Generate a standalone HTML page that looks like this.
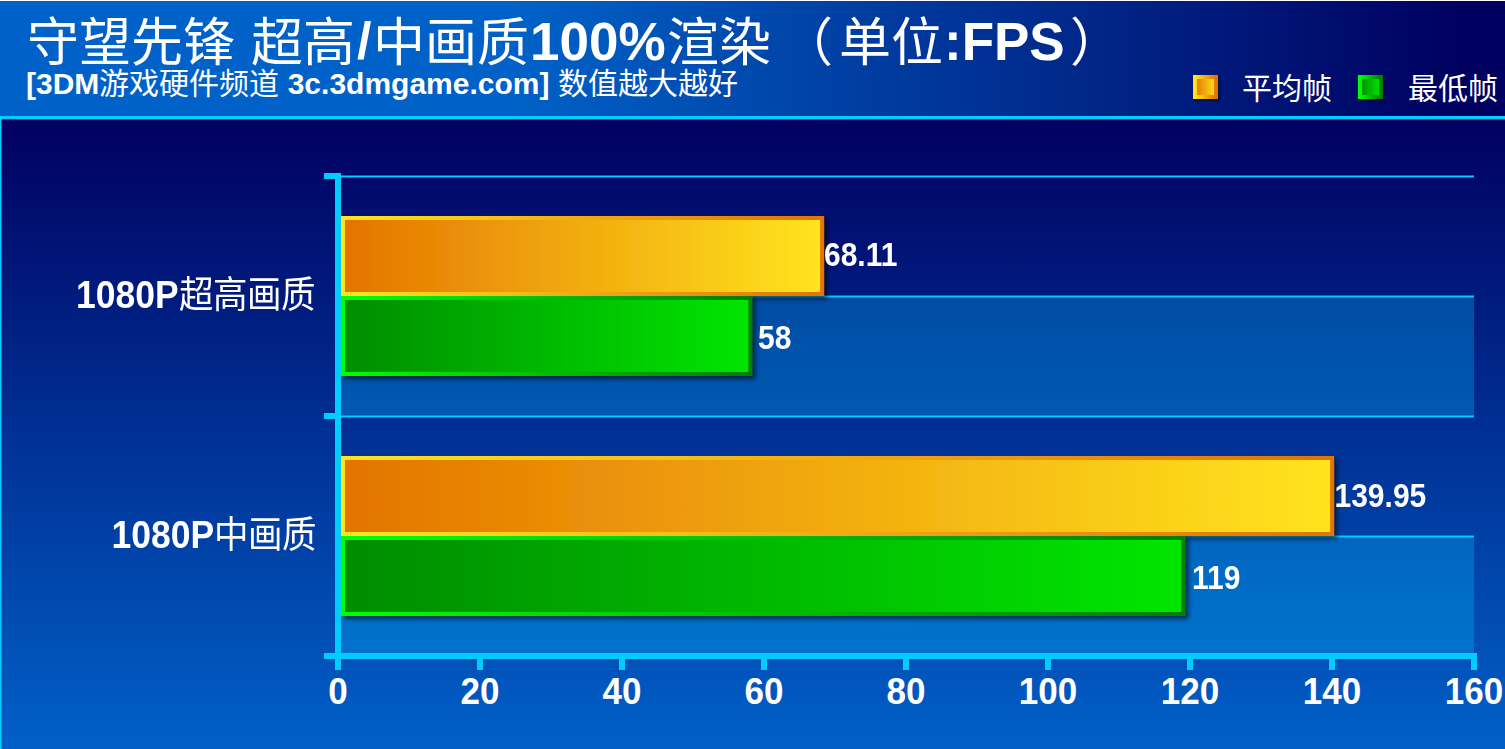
<!DOCTYPE html>
<html lang="zh-CN"><head><meta charset="utf-8">
<style>
html,body{margin:0;padding:0;}
body{width:1505px;height:749px;overflow:hidden;position:relative;background:#0060c8;font-family:"Liberation Sans",sans-serif;color:#fff;}
.abs{position:absolute;}
.topline{left:0;top:0;width:1505px;height:1px;background:#ffffff;}
.header{left:0;top:1px;width:1505px;height:115px;background:linear-gradient(to right,#0062c8 0px,#0062c8 510px,#000060 1460px);}
.cyanline{left:0;top:116px;width:1505px;height:3px;background:#00ccff;}
.cyan2{left:0;top:119px;width:1505px;height:1px;background:rgba(0,204,255,0.35);}
.main{left:0;top:119px;width:1505px;height:630px;background:linear-gradient(to bottom,#000060 0%,#0060c8 100%);}
.leftb{left:0;top:116px;width:1px;height:633px;background:#00ccff;}
.leftb2{left:1px;top:119px;width:1px;height:630px;background:rgba(0,204,255,0.5);}
.t{position:absolute;white-space:nowrap;line-height:1;}
.b{font-weight:bold;}
.cj{font-family:"Liberation Serif",serif;font-weight:normal;}
</style></head>
<body>
<div class="abs topline"></div>
<div class="abs header"></div>
<div class="abs cyanline"></div>
<div class="abs main"></div>
<div class="abs cyan2"></div>
<div class="abs leftb"></div>
<div class="abs leftb2"></div>

<svg class="abs" style="left:0;top:0" width="1505" height="749" viewBox="0 0 1505 749">
  <defs>
    <linearGradient id="ofill" x1="0" y1="0" x2="1" y2="0">
      <stop offset="0" stop-color="#e47400"/>
      <stop offset="1" stop-color="#ffe41e"/>
    </linearGradient>
    <linearGradient id="oborder" x1="0" y1="0" x2="1" y2="0">
      <stop offset="0" stop-color="#ffe41e"/>
      <stop offset="1" stop-color="#e47400"/>
    </linearGradient>
    <linearGradient id="gfill" x1="0" y1="0" x2="1" y2="0">
      <stop offset="0" stop-color="#008c00"/>
      <stop offset="1" stop-color="#00e600"/>
    </linearGradient>
    <linearGradient id="gborder" x1="0" y1="0" x2="1" y2="0">
      <stop offset="0" stop-color="#00ff00"/>
      <stop offset="1" stop-color="#008000"/>
    </linearGradient>
    <filter id="sh" x="-5%" y="-20%" width="115%" height="150%">
      <feGaussianBlur in="SourceAlpha" stdDeviation="2.5"/>
      <feOffset dx="3" dy="3" result="o"/>
      <feComponentTransfer><feFuncA type="linear" slope="0.6"/></feComponentTransfer>
      <feMerge><feMergeNode/><feMergeNode in="SourceGraphic"/></feMerge>
    </filter>
  </defs>
  <!-- plot bands -->
  <rect x="341" y="296" width="1133" height="120" fill="#00c0ff" fill-opacity="0.3"/>
  <rect x="341" y="536" width="1133" height="120" fill="#00c0ff" fill-opacity="0.3"/>
  <!-- gridlines -->
  <rect x="341" y="175.5" width="1133" height="2" fill="#00ccff"/>
  <rect x="341" y="295.5" width="1133" height="2" fill="#00ccff"/>
  <rect x="341" y="415.5" width="1133" height="2" fill="#00ccff"/>
  <rect x="341" y="535.5" width="1133" height="2" fill="#00ccff"/>
  <!-- bars -->
  <g filter="url(#sh)">
    <rect x="343" y="218" width="479.1" height="76" fill="url(#ofill)" stroke="url(#oborder)" stroke-width="4"/>
    <rect x="343" y="298" width="407.3" height="76" fill="url(#gfill)" stroke="url(#gborder)" stroke-width="4"/>
    <rect x="343" y="458" width="989.1" height="76" fill="url(#ofill)" stroke="url(#oborder)" stroke-width="4"/>
    <rect x="343" y="538" width="840.4" height="76" fill="url(#gfill)" stroke="url(#gborder)" stroke-width="4"/>
  </g>
  <!-- axes -->
  <rect x="335" y="173" width="6" height="486" fill="#00ccff"/>
  <rect x="324" y="173" width="17" height="6" fill="#00ccff"/>
  <rect x="324" y="413" width="17" height="6" fill="#00ccff"/>
  <rect x="324" y="653" width="1153" height="6" fill="#00ccff"/>
  <g fill="#00ccff">
    <rect x="335" y="653" width="6" height="17"/>
    <rect x="477" y="653" width="6" height="17"/>
    <rect x="619" y="653" width="6" height="17"/>
    <rect x="761" y="653" width="6" height="17"/>
    <rect x="903" y="653" width="6" height="17"/>
    <rect x="1045" y="653" width="6" height="17"/>
    <rect x="1187" y="653" width="6" height="17"/>
    <rect x="1329" y="653" width="6" height="17"/>
    <rect x="1471" y="653" width="6" height="17"/>
  </g>
</svg>

<!-- Title -->
<div class="t cj" style="left:27px;top:18px;font-size:52px;">守望先锋</div>
<div class="t cj" style="left:251px;top:18px;font-size:52px;">超高</div>
<div class="t b" style="left:357px;top:15px;font-size:52px;">/</div>
<div class="t cj" style="left:373px;top:18px;font-size:52px;">中画质</div>
<div class="t b" style="left:530px;top:15px;font-size:53px;">100%</div>
<div class="t cj" style="left:667px;top:18px;font-size:52px;">渲染</div>
<div class="t cj" style="left:781px;top:18px;font-size:52px;">（</div>
<div class="t cj" style="left:839px;top:18px;font-size:52px;">单位</div>
<div class="t b" style="left:944px;top:15px;font-size:53px;">:FPS</div>
<div class="t cj" style="left:1070px;top:18px;font-size:52px;">）</div>
<div class="t b" style="left:26px;top:69px;font-size:30px;">[3DM<span class="cj">游戏硬件频道</span> 3c.3dmgame.com] <span class="cj">数值越大越好</span></div>

<!-- Legend -->
<svg class="abs" style="left:1193px;top:75px;filter:drop-shadow(2px 2px 1.5px rgba(0,0,30,0.55))" width="30" height="30">
  <defs>
    <linearGradient id="lo" x1="0" x2="1"><stop offset="0" stop-color="#e47400"/><stop offset="1" stop-color="#ffe41e"/></linearGradient>
    <linearGradient id="lob" x1="0" x2="1"><stop offset="0" stop-color="#ffe41e"/><stop offset="1" stop-color="#e47400"/></linearGradient>
  </defs>
  <rect x="2" y="2" width="21" height="20" fill="url(#lo)" stroke="url(#lob)" stroke-width="4"/>
</svg>
<div class="t cj" style="left:1242px;top:74px;font-size:30px;">平均帧</div>
<svg class="abs" style="left:1358px;top:75px;filter:drop-shadow(2px 2px 1.5px rgba(0,0,30,0.55))" width="30" height="30">
  <defs>
    <linearGradient id="lg" x1="0" x2="1"><stop offset="0" stop-color="#008c00"/><stop offset="1" stop-color="#00e600"/></linearGradient>
    <linearGradient id="lgb" x1="0" x2="1"><stop offset="0" stop-color="#00ff00"/><stop offset="1" stop-color="#008000"/></linearGradient>
  </defs>
  <rect x="2" y="2" width="21" height="20" fill="url(#lg)" stroke="url(#lgb)" stroke-width="4"/>
</svg>
<div class="t cj" style="left:1408px;top:74px;font-size:30px;">最低帧</div>

<!-- Category labels -->
<div class="t b" style="left:76px;top:278px;font-size:35.5px;transform:scaleY(1.08);transform-origin:0 17.3px;">1080P<span class="cj" style="font-size:34.5px">超高画质</span></div>
<div class="t b" style="left:111.5px;top:518px;font-size:35.5px;transform:scaleY(1.08);transform-origin:0 17.3px;">1080P<span class="cj" style="font-size:34.5px">中画质</span></div>

<!-- Value labels -->
<div class="t b" style="left:824px;top:240px;font-size:30px;transform:scaleY(1.09);transform-origin:0 14.65px;">68.11</div>
<div class="t b" style="left:758px;top:323px;font-size:30px;transform:scaleY(1.09);transform-origin:0 14.65px;">58</div>
<div class="t b" style="left:1334.5px;top:481px;font-size:30px;transform:scaleY(1.09);transform-origin:0 14.65px;">139.95</div>
<div class="t b" style="left:1192px;top:563px;font-size:30px;transform:scaleY(1.09);transform-origin:0 14.65px;">119</div>

<!-- X axis labels -->
<div class="t b" style="left:338px;top:673px;font-size:35px;transform:translateX(-50%) scaleY(1.07);transform-origin:50% 17.1px;">0</div>
<div class="t b" style="left:480px;top:673px;font-size:35px;transform:translateX(-50%) scaleY(1.07);transform-origin:50% 17.1px;">20</div>
<div class="t b" style="left:622px;top:673px;font-size:35px;transform:translateX(-50%) scaleY(1.07);transform-origin:50% 17.1px;">40</div>
<div class="t b" style="left:764px;top:673px;font-size:35px;transform:translateX(-50%) scaleY(1.07);transform-origin:50% 17.1px;">60</div>
<div class="t b" style="left:906px;top:673px;font-size:35px;transform:translateX(-50%) scaleY(1.07);transform-origin:50% 17.1px;">80</div>
<div class="t b" style="left:1048px;top:673px;font-size:35px;transform:translateX(-50%) scaleY(1.07);transform-origin:50% 17.1px;">100</div>
<div class="t b" style="left:1190px;top:673px;font-size:35px;transform:translateX(-50%) scaleY(1.07);transform-origin:50% 17.1px;">120</div>
<div class="t b" style="left:1332px;top:673px;font-size:35px;transform:translateX(-50%) scaleY(1.07);transform-origin:50% 17.1px;">140</div>
<div class="t b" style="left:1474px;top:673px;font-size:35px;transform:translateX(-50%) scaleY(1.07);transform-origin:50% 17.1px;">160</div>
</body></html>
